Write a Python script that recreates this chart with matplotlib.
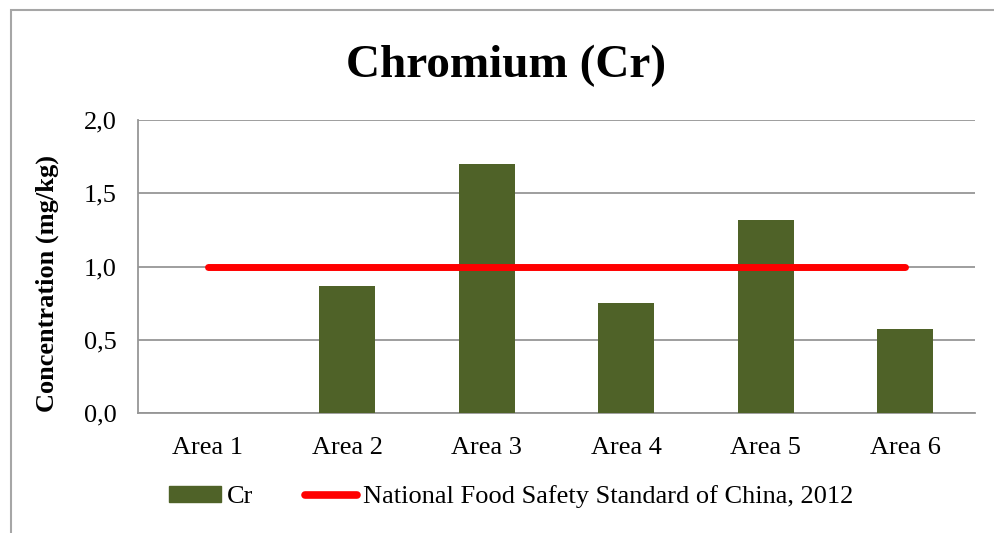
import matplotlib
matplotlib.use("Agg")
import matplotlib.pyplot as plt
from matplotlib.patches import Rectangle
from matplotlib.lines import Line2D

areas = ["Area 1", "Area 2", "Area 3", "Area 4", "Area 5", "Area 6"]
cr_values = [0.0, 0.87, 1.70, 0.75, 1.32, 0.57]
standard = [1.0, 1.0, 1.0, 1.0, 1.0, 1.0]
yticks = [0.0, 0.5, 1.0, 1.5, 2.0]
ytick_labels = ["0,0", "0,5", "1,0", "1,5", "2,0"]

plt.rcParams['font.family'] = ['Liberation Serif', 'DejaVu Serif']

W, H = 994, 533
fig = plt.figure(figsize=(W / 100, H / 100), dpi=100)

# outer chart border
fig.patches.append(Rectangle((10.5 / W, -0.1), 1.2, 1 - 10.5 / H + 0.1,
                             transform=fig.transFigure, fill=False,
                             edgecolor="#A6A6A6", linewidth=1.5))

ax = fig.add_axes([138 / W, 1 - 413 / H, (975 - 138) / W, (413 - 120) / H])

x = list(range(len(areas)))
ax.bar(x, cr_values, width=0.4, color="#4F6228", zorder=3, label="Cr")
ax.plot(x, standard, color="#FF0000", linewidth=5, solid_capstyle="round",
        zorder=4, label="National Food Safety Standard of China, 2012")

ax.set_xlim(-0.5, len(areas) - 0.5)
ax.set_ylim(0, 2.0)
ax.set_yticks(yticks)
ax.set_yticklabels(ytick_labels)
ax.set_xticks(x)
ax.set_xticklabels(areas)
ax.tick_params(axis="both", length=0, labelsize=19)
ax.tick_params(axis="y", pad=15.5)
ax.tick_params(axis="x", pad=17)
ax.yaxis.grid(True, color="#969696", linewidth=1.3, zorder=0)
ax.set_axisbelow(True)
for s in ["top", "right"]:
    ax.spines[s].set_visible(False)
ax.spines["left"].set_color("#969696")
ax.spines["bottom"].set_color("#969696")
ax.spines["left"].set_linewidth(1.3)
ax.spines["bottom"].set_linewidth(1.3)

fig.text(506 / W, 1 - 66 / H, "Chromium (Cr)", fontsize=34, fontweight="bold",
         ha="center", va="center")
fig.text(47 / W, 1 - 283 / H, "Concentration (mg/kg)", fontsize=19,
         fontweight="bold", rotation=90, ha="center", va="center")

handles = [Rectangle((0, 0), 1, 1, color="#4F6228"),
           Line2D([0], [0], color="#FF0000", linewidth=5.5, solid_capstyle="round")]
labels = ["Cr", "National Food Safety Standard of China, 2012"]
fig.legend(handles, labels, loc="center", bbox_to_anchor=(511 / W, 1 - 497 / H),
           ncol=2, frameon=False, fontsize=19, handlelength=1.97,
           handletextpad=0.23, columnspacing=1.95, handleheight=0.52)

fig.savefig("out.png", dpi=100)
